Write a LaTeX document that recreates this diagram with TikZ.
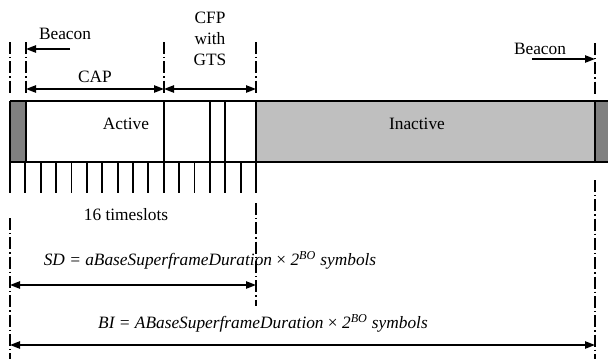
\documentclass[tikz,border=0pt]{standalone}
\usepackage{fontspec}
\setmainfont{Liberation Serif}
\usetikzlibrary{arrows.meta}
\begin{document}
\begin{tikzpicture}[x=0.75pt,y=-0.75pt,
  barline/.style={draw=black,line width=1.4pt},
  dashdot/.style={line width=1.1pt,dash pattern=on 9pt off 2.2pt on 1.1pt off 2.2pt},
  tip/.tip={Triangle[length=7.5pt,width=5.5pt]},
  dimarrow/.style={line width=1.1pt,tip-tip},
  onearrow/.style={line width=1.1pt,-tip},
  lbl/.style={font=\fontsize{13}{16}\selectfont, inner sep=0pt},
  ilbl/.style={font=\fontsize{13}{16}\selectfont\itshape, inner sep=0pt},
]
\useasboundingbox (0,0) rectangle (608,358);
% bar fills
\fill[white] (26,101) rectangle (256,162);
\fill[gray!100!white,fill=black!50] (10,101) rectangle (26,162);
\fill[black!25] (256,101) rectangle (595,162);
\fill[black!50] (595,101) rectangle (612,162);
% bar outline
\draw[barline] (10,101) -- (612,101);
\draw[barline] (10,162) -- (612,162);
\foreach \x in {10,26,164,210,225,256,595} \draw[barline] (\x,101) -- (\x,162);
% ticks
\foreach \i in {0,...,16} \draw[barline] ({10+\i*15.375},162) -- ({10+\i*15.375},193);
% dash-dot guides top
\foreach \x in {10,26,164,256} \draw[dashdot] (\x,42) -- (\x,94);
\draw[dashdot] (595,43) -- (595,94);
% dash-dot guides bottom
\draw[dashdot] (256,203) -- (256,306);
\draw[dashdot] (10,218) -- (10,360);
\draw[dashdot] (595,180) -- (595,360);
% coordinates
\coordinate (bl0) at (70,49);
\coordinate (bl1) at (26,49);
\coordinate (cap0) at (26,89);
\coordinate (cap1) at (164,89);
\coordinate (cfp1) at (256,89);
\coordinate (br0) at (532,59);
\coordinate (br1) at (595,59);
\coordinate (sd0) at (10,285);
\coordinate (sd1) at (256,285);
\coordinate (bi0) at (10,345);
\coordinate (bi1) at (595,345);
% arrows
\draw[onearrow] (bl0) -- (bl1);
\draw[dimarrow] (cap0) -- (cap1);
\draw[dimarrow] (cap1) -- (cfp1);
\draw[onearrow] (br0) -- (br1);
\draw[dimarrow] (sd0) -- (sd1);
\draw[dimarrow] (bi0) -- (bi1);
% labels
\node[lbl] (beaconL) at (65,34) {Beacon};
\node[lbl] (capL) at (95,77) {CAP};
\node[lbl,align=center] (cfpL) at (210,39) {CFP\\with\\GTS};
\node[lbl] (activeL) at (126,124) {Active};
\node[lbl] (inactiveL) at (417,124) {Inactive};
\node[lbl] (beaconR) at (540,49) {Beacon};
\node[lbl] (slotsL) at (126,215) {16 timeslots};
\node[ilbl] (sdL) at (210,260) {SD = aBaseSuperframeDuration {\upshape×} 2\textsuperscript{BO} symbols};
\node[ilbl] (biL) at (263,323) {BI = ABaseSuperframeDuration {\upshape×} 2\textsuperscript{BO} symbols};
\end{tikzpicture}
\end{document}
